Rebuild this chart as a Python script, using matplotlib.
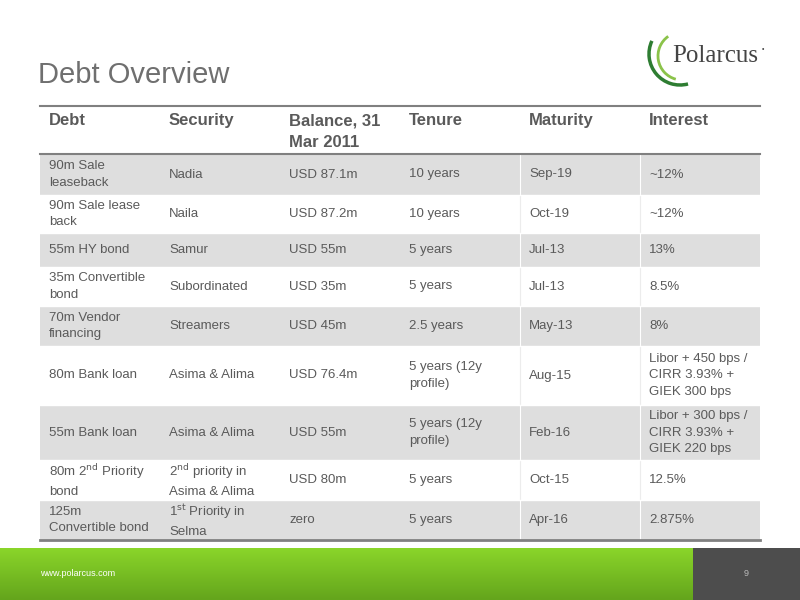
import matplotlib
matplotlib.use("Agg")
import matplotlib.pyplot as plt
import numpy as np
from matplotlib.patches import Rectangle, Arc
from matplotlib.colors import LinearSegmentedColormap

plt.rcParams['font.family'] = ['Liberation Sans', 'DejaVu Sans']

headers = ["Debt", "Security", "Balance, 31\nMar 2011", "Tenure", "Maturity", "Interest"]
debt = ["90m Sale\nleaseback", "90m Sale lease\nback", "55m HY bond", "35m Convertible\nbond",
        "70m Vendor\nfinancing", "80m Bank loan", "55m Bank loan",
        "80m 2$^{\\rm nd}$ Priority\nbond", "125m\nConvertible bond"]
security = ["Nadia", "Naila", "Samur", "Subordinated", "Streamers", "Asima & Alima",
            "Asima & Alima", "2$^{\\rm nd}$ priority in\nAsima & Alima", "1$^{\\rm st}$ Priority in\nSelma"]
balance = ["USD 87.1m", "USD 87.2m", "USD 55m", "USD 35m", "USD 45m", "USD 76.4m",
           "USD 55m", "USD 80m", "zero"]
tenure = ["10 years", "10 years", "5 years", "5 years", "2.5 years", "5 years (12y\nprofile)",
          "5 years (12y\nprofile)", "5 years", "5 years"]
maturity = ["Sep-19", "Oct-19", "Jul-13", "Jul-13", "May-13", "Aug-15", "Feb-16", "Oct-15", "Apr-16"]
interest = ["~12%", "~12%", "13%", "8.5%", "8%", "Libor + 450 bps /\nCIRR 3.93% +\nGIEK 300 bps",
            "Libor + 300 bps /\nCIRR 3.93% +\nGIEK 220 bps", "12.5%", "2.875%"]

cols = [debt, security, balance, tenure, maturity, interest]
col_x = [40, 160, 280, 400, 520, 640, 760]
row_y = [154, 195, 233, 267, 306, 346, 405, 460, 500, 540]

fig = plt.figure(figsize=(8, 6), dpi=100)
ax = fig.add_axes([0, 0, 1, 1])
ax.set_xlim(0, 800)
ax.set_ylim(600, 0)
ax.axis('off')

txt = '#5a5a5a'
for i in range(len(debt)):
    y0, y1 = row_y[i], row_y[i + 1]
    if i % 2 == 0:
        ax.add_patch(Rectangle((40, y0), 720, y1 - y0, color='#dedede', lw=0))
    for c in range(6):
        ax.text(col_x[c] + 9, (y0 + y1) / 2, cols[c][i], fontsize=9.5, color=txt,
                va='center', ha='left', linespacing=1.5)
    for xv in (520, 640):
        ax.plot([xv, xv], [y0, y1], color='white' if i % 2 == 0 else '#ececec', lw=0.8)
    if i > 0:
        ax.plot([40, 760], [y0, y0], color='white', lw=1)

for c in range(6):
    ax.text(col_x[c] + 9, 113, headers[c], fontsize=12, color=txt, fontweight='bold',
            va='top', ha='left', linespacing=1.55)

ax.plot([40, 760], [106, 106], color='#808080', lw=1.5)
ax.plot([40, 760], [154, 154], color='#808080', lw=1.5)
ax.plot([40, 760], [540, 540], color='#808080', lw=2)

ax.text(38, 75, "Debt Overview", fontsize=21, color='#6f6f6f', va='center', ha='left')

# logo
ax.add_patch(Arc((680, 54), 62, 62, theta1=75, theta2=205, color='#2e7d32', lw=2.5))
ax.add_patch(Arc((682, 56), 48, 48, theta1=105, theta2=235, color='#8bc34a', lw=2))
ax.text(672, 56, "Polarcus", fontsize=18, family='Liberation Serif', color='#444444',
        va='center', ha='left')
ax.text(762, 50, "\u2022", fontsize=5, color='#444444', va='center')

# footer
grad = np.linspace(0, 1, 50).reshape(-1, 1)
cm = LinearSegmentedColormap.from_list('g', ['#8ad52a', '#64a51c'])
ax.imshow(grad, extent=(0, 693, 600, 548), cmap=cm, aspect='auto', zorder=1)
ax.add_patch(Rectangle((693, 548), 107, 52, color='#4d4d4d', lw=0, zorder=2))
ax.text(40, 574, "www.polarcus.com", fontsize=6.5, color='white', va='center', zorder=3)
ax.text(746, 574, "9", fontsize=6.5, color='#bbbbbb', va='center', ha='center', zorder=3)
ax.set_xlim(0, 800)
ax.set_ylim(600, 0)

fig.savefig("out.png", dpi=100)
